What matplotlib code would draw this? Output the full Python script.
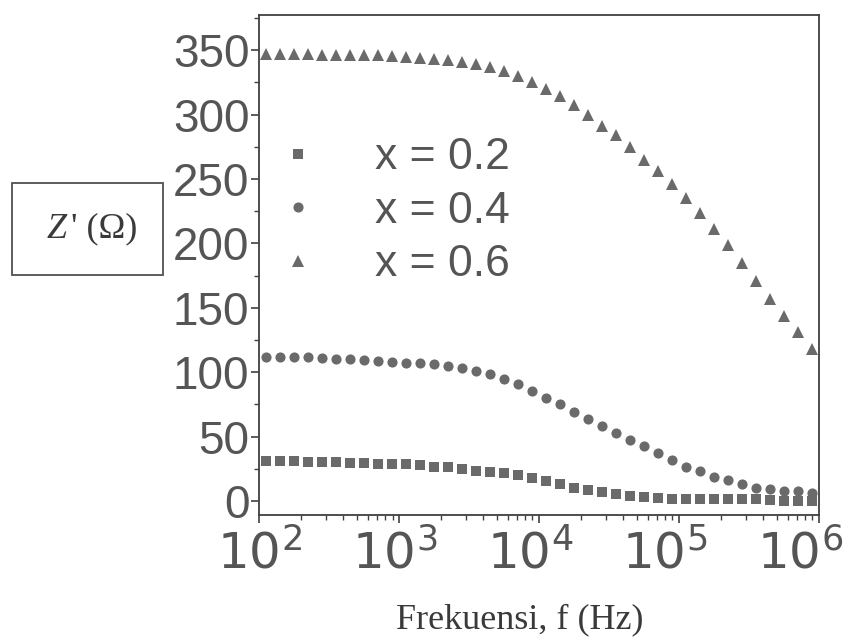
import numpy as np
import matplotlib
matplotlib.use('Agg')
import matplotlib.pyplot as plt
import matplotlib.transforms as mtransforms
from matplotlib.patches import Rectangle
from matplotlib.ticker import MultipleLocator, LogLocator, NullFormatter

# log10 of the measured frequencies (Hz)
log_f = [2.05, 2.15, 2.25, 2.35, 2.45, 2.55, 2.65, 2.75, 2.85, 2.95,
         3.05, 3.15, 3.25, 3.35, 3.45, 3.55, 3.65, 3.75, 3.85, 3.95,
         4.05, 4.15, 4.25, 4.35, 4.45, 4.55, 4.65, 4.75, 4.85, 4.95,
         5.05, 5.15, 5.25, 5.35, 5.45, 5.55, 5.65, 5.75, 5.85, 5.95]

# Z' (ohm) for x = 0.2
z_02 = [30.7, 30.8, 30.7, 30.2, 30.0, 30.1, 29.8, 29.5, 29.0, 28.9,
        28.4, 27.8, 26.5, 26.2, 24.9, 23.7, 22.7, 21.4, 20.2, 17.8,
        15.7, 13.5, 10.2, 8.5, 7.3, 5.3, 3.6, 3.0, 2.6, 1.9,
        1.5, 1.3, 1.4, 1.5, 1.6, 1.2, 0.8, 0.1, 0.3, 0.4]

# Z' (ohm) for x = 0.4
z_04 = [112, 112, 112, 111.5, 111, 110.5, 110, 109.5, 109, 108,
        107.5, 107, 106.5, 105, 103.5, 101, 98.5, 94.5, 90.5, 85.5,
        80, 75, 69.5, 64, 58, 52.5, 47.5, 42.5, 37, 32,
        26.5, 23, 18.5, 16, 13, 10, 9.5, 8, 7.5, 6]

# Z' (ohm) for x = 0.6
z_06 = [347, 347, 347, 347, 346.5, 346.5, 346.5, 346, 346, 345.5,
        345, 344, 343.5, 342.5, 341, 339.5, 337, 334, 330, 325,
        320, 314.5, 307.5, 299.5, 291.5, 284, 275, 265, 256, 246,
        235.5, 223.5, 211.5, 199, 185, 171, 157, 144, 131, 118]

labels = ['x = 0.2', 'x = 0.4', 'x = 0.6']
y_ticks = [0, 50, 100, 150, 200, 250, 300, 350]

freq = 10 ** np.array(log_f)

sans = 'Liberation Sans'
plt.rcParams['mathtext.fontset'] = 'custom'
plt.rcParams['mathtext.rm'] = 'Liberation Sans'
plt.rcParams['mathtext.it'] = 'Liberation Sans:italic'

txt_col = '#555555'
ax_col = '#404040'
mk_col = '#6a6a6a'

fig = plt.figure(figsize=(8.52, 6.44), dpi=100)
ax = fig.add_axes([0.304, 0.2, 0.657, 0.776])

ax.plot(freq, z_02, 's', color=mk_col, markersize=6.5, markeredgewidth=0, label=labels[0])
ax.plot(freq, z_04, 'o', color=mk_col, markersize=7.3, markeredgewidth=0, label=labels[1])
ax.plot(freq, z_06, '^', color=mk_col, markersize=8, markeredgewidth=0, label=labels[2])

ax.set_xscale('log')
ax.set_xlim(1e2, 1e6)
ax.set_ylim(-11, 377)
ax.set_yticks(y_ticks)
ax.yaxis.set_minor_locator(MultipleLocator(25))
ax.xaxis.set_major_locator(LogLocator(base=10, numticks=10))
ax.xaxis.set_minor_locator(LogLocator(base=10, subs=np.arange(2, 10), numticks=20))
ax.xaxis.set_minor_formatter(NullFormatter())

for s in ['top', 'right', 'left', 'bottom']:
    ax.spines[s].set_color(ax_col)
    ax.spines[s].set_linewidth(1.3)

ax.tick_params(which='major', direction='out', length=6, width=1.2, color=ax_col,
               top=False, right=False, labelcolor=txt_col)
ax.tick_params(which='minor', direction='out', length=3.5, width=1.0, color=ax_col,
               top=False, right=False)
ax.tick_params(axis='y', which='major', labelsize=33, pad=1)
ax.tick_params(axis='x', which='major', labelsize=36, pad=4)
for lab in ax.get_yticklabels():
    lab.set_family(sans)

leg = ax.legend(loc='upper left', bbox_to_anchor=(0.03, 0.756), frameon=False,
                prop={'family': sans, 'size': 32}, labelcolor=txt_col,
                handlelength=1.0, handletextpad=1.24, labelspacing=0.28,
                borderpad=0, borderaxespad=0, numpoints=1, markerscale=1.0)

fig.text(520 / 852, 1 - 620 / 644, 'Frekuensi, f (Hz)', family='Liberation Serif',
         fontsize=26, color='#3a3a3a', ha='center', va='center')

# boxed y-axis label
fig.patches.append(Rectangle((12 / 852, 1 - 275 / 644), 151 / 852, 92 / 644,
                             transform=fig.transFigure, fill=False,
                             edgecolor='#505050', linewidth=1.3))
fig.text(57 / 852, 1 - 229 / 644, 'Z', family='Liberation Serif', style='italic',
         fontsize=26, color='#3a3a3a', ha='center', va='center')
fig.text(71 / 852, 1 - 229 / 644, "' (\u03A9)", family='Liberation Serif',
         fontsize=26, color='#3a3a3a', ha='left', va='center')

# the decade labels sit a little left of their ticks in the original
fig.canvas.draw()
shift_px = {2: 0, 3: -4, 4: -9, 5: -14, 6: -19}
for tick in ax.xaxis.get_major_ticks():
    dec = int(round(np.log10(tick.get_loc())))
    if dec in shift_px:
        off = mtransforms.ScaledTranslation(shift_px[dec] / 100, 0, fig.dpi_scale_trans)
        tick.label1.set_transform(tick.label1.get_transform() + off)

fig.savefig('out.png', dpi=100, facecolor='white')
